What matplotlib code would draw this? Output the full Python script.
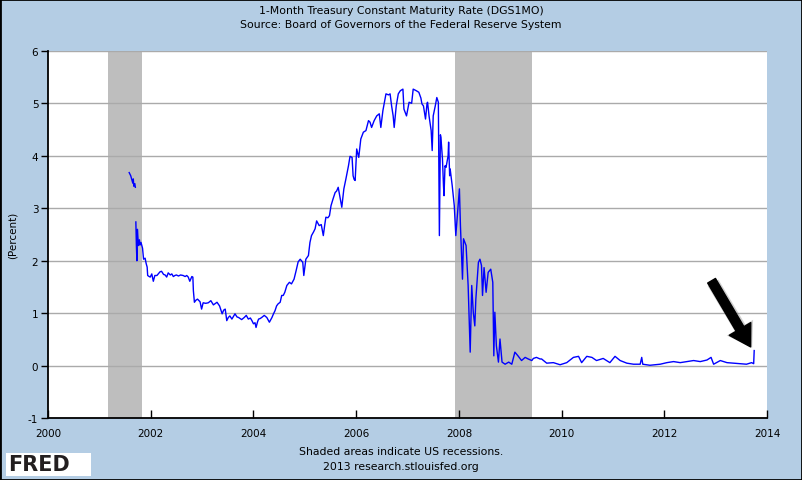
#!/usr/bin/env python3
"""
1-Month Treasury Constant Maturity Rate (DGS1MO), FRED style chart.
Values read off the FRED graph by eye.
"""

import matplotlib.pyplot as plt
from matplotlib.patches import Rectangle
import numpy as np

plt.rcParams["axes.unicode_minus"] = False

# Decimal year / percent (nan = gap in the series)
years = [
    2001.58, 2001.61, 2001.63, 2001.65, 2001.66, 2001.67, 2001.69, 2001.70, 2001.705,
    2001.71, 2001.72, 2001.73, 2001.74, 2001.76, 2001.78, 2001.79, 2001.81, 2001.84,
    2001.86, 2001.89, 2001.91, 2001.93, 2001.94, 2001.97, 2001.99, 2002.02, 2002.05,
    2002.08, 2002.12, 2002.18, 2002.21, 2002.25, 2002.28, 2002.31, 2002.34, 2002.38,
    2002.41, 2002.44, 2002.47, 2002.50, 2002.54, 2002.58, 2002.63, 2002.67, 2002.70,
    2002.73, 2002.76, 2002.80, 2002.82, 2002.83, 2002.85, 2002.88, 2002.91, 2002.94,
    2002.96, 2002.99, 2003.02, 2003.07, 2003.12, 2003.17, 2003.22, 2003.26, 2003.29,
    2003.34, 2003.37, 2003.39, 2003.42, 2003.45, 2003.48, 2003.51, 2003.54, 2003.58,
    2003.61, 2003.64, 2003.68, 2003.71, 2003.74, 2003.77, 2003.82, 2003.86, 2003.90,
    2003.94, 2003.97, 2004.00, 2004.03, 2004.05, 2004.08, 2004.10, 2004.13, 2004.16,
    2004.21, 2004.26, 2004.31, 2004.36, 2004.39, 2004.42, 2004.45, 2004.48, 2004.52,
    2004.55, 2004.58, 2004.61, 2004.65, 2004.70, 2004.74, 2004.79, 2004.83, 2004.87,
    2004.91, 2004.96, 2004.98, 2005.02, 2005.07, 2005.10, 2005.13, 2005.17, 2005.20,
    2005.23, 2005.28, 2005.32, 2005.36, 2005.39, 2005.41, 2005.45, 2005.48, 2005.51,
    2005.55, 2005.59, 2005.62, 2005.65, 2005.68, 2005.72, 2005.76, 2005.80, 2005.85,
    2005.88, 2005.92, 2005.94, 2005.96, 2005.98, 2006.01, 2006.05, 2006.09, 2006.14,
    2006.19, 2006.24, 2006.27, 2006.30, 2006.35, 2006.40, 2006.45, 2006.48, 2006.52,
    2006.55, 2006.58, 2006.63, 2006.66, 2006.69, 2006.72, 2006.74, 2006.78, 2006.82,
    2006.86, 2006.91, 2006.93, 2006.98, 2007.03, 2007.08, 2007.11, 2007.17, 2007.22,
    2007.26, 2007.28, 2007.31, 2007.33, 2007.35, 2007.38, 2007.39, 2007.42, 2007.46,
    2007.48, 2007.50, 2007.54, 2007.57, 2007.60, 2007.62, 2007.63, 2007.64, 2007.65,
    2007.68, 2007.70, 2007.71, 2007.73, 2007.75, 2007.79, 2007.80, 2007.82, 2007.83,
    2007.87, 2007.91, 2007.94, 2007.97, 2008.01, 2008.03, 2008.05, 2008.07, 2008.09,
    2008.14, 2008.18, 2008.22, 2008.25, 2008.28, 2008.31, 2008.33, 2008.38, 2008.41,
    2008.44, 2008.46, 2008.49, 2008.53, 2008.57, 2008.62, 2008.66, 2008.68, 2008.70,
    2008.73, 2008.77, 2008.80, 2008.84, 2008.90, 2008.97, 2009.03, 2009.09, 2009.15,
    2009.22, 2009.29, 2009.35, 2009.42, 2009.45, 2009.51, 2009.58, 2009.61, 2009.71,
    2009.84, 2009.97, 2010.10, 2010.23, 2010.33, 2010.39, 2010.49, 2010.59, 2010.68,
    2010.81, 2010.94, 2011.04, 2011.14, 2011.27, 2011.40, 2011.53, 2011.56, 2011.58,
    2011.72, 2011.92, 2012.05, 2012.18, 2012.31, 2012.44, 2012.57, 2012.70, 2012.83,
    2012.91, 2012.96, 2013.09, 2013.22, 2013.34, 2013.47, 2013.60, 2013.70, 2013.74,
    2013.75,
]
rate = [
    3.68, 3.62, 3.55, 3.48, 3.56, 3.42, 3.47, 3.40, np.nan,
    2.74, 2.30, 2.00, 2.60, 2.29, 2.40, 2.30, 2.35, 2.24,
    2.03, 2.05, 1.95, 1.88, 1.72, 1.70, 1.69, 1.75, 1.61,
    1.72, 1.72, 1.79, 1.80, 1.74, 1.73, 1.69, 1.77, 1.73,
    1.75, 1.70, 1.72, 1.73, 1.71, 1.73, 1.72, 1.70, 1.72,
    1.69, 1.61, 1.70, 1.69, 1.43, 1.21, 1.25, 1.27, 1.24,
    1.22, 1.08, 1.20, 1.19, 1.20, 1.24, 1.16, 1.19, 1.21,
    1.14, 1.05, 0.99, 1.06, 1.08, 0.86, 0.92, 0.95, 0.89,
    0.94, 0.99, 0.93, 0.92, 0.90, 0.88, 0.92, 0.96, 0.89,
    0.91, 0.86, 0.80, 0.82, 0.73, 0.84, 0.89, 0.90, 0.92,
    0.96, 0.92, 0.83, 0.92, 0.99, 1.05, 1.14, 1.18, 1.21,
    1.34, 1.34, 1.40, 1.53, 1.59, 1.56, 1.65, 1.81, 1.98,
    2.03, 1.97, 1.72, 2.03, 2.10, 2.35, 2.48, 2.55, 2.61,
    2.76, 2.67, 2.69, 2.48, 2.70, 2.83, 2.82, 2.86, 3.05,
    3.18, 3.30, 3.33, 3.40, 3.24, 3.02, 3.37, 3.56, 3.81,
    3.99, 3.97, 3.62, 3.55, 3.53, 4.13, 3.97, 4.32, 4.45,
    4.48, 4.67, 4.64, 4.54, 4.67, 4.76, 4.80, 4.54, 4.86,
    5.02, 5.18, 5.16, 5.18, 4.95, 4.76, 4.54, 4.95, 5.18,
    5.24, 5.27, 4.89, 4.76, 5.02, 5.00, 5.27, 5.24, 5.21,
    5.10, 4.99, 4.95, 4.83, 4.70, 5.00, 5.02, 4.75, 4.48,
    4.10, 4.76, 4.95, 5.11, 5.02, 2.48, 3.37, 4.40, 4.35,
    3.94, 3.43, 3.24, 3.81, 3.78, 4.00, 4.26, 3.62, 3.75,
    3.43, 3.05, 2.48, 2.85, 3.37, 2.67, 2.16, 1.65, 2.42,
    2.29, 1.53, 0.26, 1.53, 1.02, 0.76, 1.27, 1.97, 2.03,
    1.91, 1.34, 1.87, 1.40, 1.78, 1.84, 1.59, 0.19, 1.02,
    0.38, 0.07, 0.51, 0.07, 0.03, 0.07, 0.03, 0.26, 0.19,
    0.10, 0.16, 0.13, 0.10, 0.14, 0.16, 0.13, 0.13, 0.05,
    0.06, 0.02, 0.06, 0.16, 0.18, 0.06, 0.18, 0.16, 0.10,
    0.14, 0.06, 0.18, 0.10, 0.05, 0.03, 0.03, 0.16, 0.03,
    0.01, 0.03, 0.06, 0.08, 0.06, 0.08, 0.10, 0.08, 0.11,
    0.16, 0.03, 0.10, 0.06, 0.05, 0.04, 0.03, 0.06, 0.04,
    0.29,
]

# US recessions (start, end) in decimal years
recessions = [(2001.17, 2001.83), (2007.92, 2009.42)]

bg_blue = "#b4cde4"

fig = plt.figure(figsize=(8.02, 4.81), dpi=100, facecolor=bg_blue)
ax = fig.add_axes([0.0599, 0.1283, 0.8965, 0.764])
ax.set_facecolor("white")

for start, end in recessions:
    ax.axvspan(start, end, color="#bebebe", lw=0, zorder=1)

ax.plot(years, rate, color="#0000ff", linewidth=1.0, zorder=3)

ax.set_xlim(2000, 2014)
ax.set_ylim(-1, 6)
ax.set_xticks(np.arange(2000, 2015, 2))
ax.set_yticks(np.arange(-1, 7, 1))
ax.yaxis.grid(True, color="#aaaaaa", linewidth=1.0)
for gl in ax.get_ygridlines():
    gl.set_zorder(2)

for side in ["top", "right"]:
    ax.spines[side].set_visible(False)
for side in ["left", "bottom"]:
    ax.spines[side].set_linewidth(1.3)
    ax.spines[side].set_zorder(4)

ax.tick_params(axis="x", direction="in", length=6, width=1, pad=7,
               labelsize=7.5, colors="black")
ax.tick_params(axis="y", direction="out", length=5, width=1, pad=2,
               labelsize=7.5, colors="black")

fig.text(13 / 802, 0.51, "(Percent)", rotation=90, ha="center", va="center",
         fontsize=7.5)

# Arrow pointing at the latest reading (with a soft shadow)
ax.annotate("", xy=(2013.71, 0.34), xytext=(2012.95, 1.58),
            arrowprops=dict(facecolor="#777777", edgecolor="none", alpha=0.35,
                            width=9, headwidth=22, headlength=17, shrink=0),
            zorder=4)
ax.annotate("", xy=(2013.68, 0.36), xytext=(2012.92, 1.62),
            arrowprops=dict(facecolor="black", edgecolor="black",
                            width=6.5, headwidth=18, headlength=15, shrink=0),
            zorder=5)

fig.text(0.5, 0.977, "1-Month Treasury Constant Maturity Rate (DGS1MO)",
         ha="center", va="center", fontsize=7.8)
fig.text(0.5, 0.948, "Source: Board of Governors of the Federal Reserve System",
         ha="center", va="center", fontsize=7.8)
fig.text(0.5, 0.060, "Shaded areas indicate US recessions.",
         ha="center", va="center", fontsize=7.8)
fig.text(0.5, 0.029, "2013 research.stlouisfed.org",
         ha="center", va="center", fontsize=7.8)

# FRED logo box
fig.patches.append(Rectangle((6 / 802, 4 / 481), 85 / 802, 23 / 481,
                             transform=fig.transFigure, facecolor="white",
                             edgecolor="none"))
fig.text(8 / 802, 15.5 / 481, "FRED", ha="left", va="center",
         fontsize=15, fontweight="bold", color="#231f20")

# outer frame
fig.patches.append(Rectangle((0, 0), 1, 1, transform=fig.transFigure,
                             fill=False, edgecolor="black", linewidth=2))

fig.savefig("out.png", dpi=100, facecolor=bg_blue)
